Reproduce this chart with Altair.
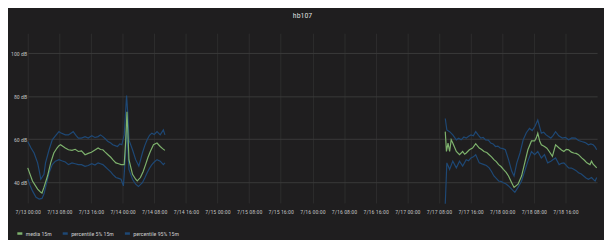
import datetime as dt
import altair as alt
import pandas as pd

# hours after 7/13 00:00 and level in dB
MEDIA_1 = [(0.0, 46.7), (1.2, 40.6), (2.5, 36.8), (3.3, 35.3), (3.6, 35.0), (4.1, 37.6), (5.0, 42.9),
           (5.8, 49.0), (6.6, 53.6), (7.4, 55.9), (7.9, 57.0), (8.3, 57.4), (9.5, 55.9), (10.3, 55.1),
           (11.2, 54.8), (12.0, 55.3), (12.8, 54.3), (13.6, 54.6), (14.5, 52.8), (15.3, 53.4), (16.1, 53.9),
           (17.0, 55.0), (17.8, 55.9), (18.4, 55.2), (19.0, 55.1), (19.6, 54.0), (20.3, 52.8), (21.0, 51.6),
           (21.5, 50.5), (22.3, 49.0), (23.0, 48.6), (23.6, 48.2), (24.4, 48.2), (24.8, 60.0), (25.1, 72.7),
           (25.4, 60.0), (25.6, 50.5), (26.5, 43.7), (27.3, 41.4), (27.7, 40.6), (28.5, 42.2), (29.2, 45.0),
           (29.8, 48.2), (30.4, 51.5), (31.0, 54.3), (31.8, 57.4), (32.7, 58.2), (33.5, 56.6), (34.1, 55.6),
           (34.7, 54.8)]
P95_1 = [(0.0, 58.9), (0.8, 56.0), (1.6, 53.6), (2.5, 49.0), (3.0, 44.5), (3.3, 41.4), (4.1, 43.7),
         (4.5, 49.0), (5.4, 55.1), (6.2, 59.7), (7.0, 61.5), (7.9, 63.5), (8.3, 63.0), (9.5, 62.0),
         (10.3, 62.0), (11.5, 63.5), (12.2, 61.8), (12.8, 60.5), (13.6, 60.5), (14.5, 61.2), (15.3, 60.5),
         (16.2, 61.6), (17.0, 60.8), (17.8, 61.2), (18.4, 62.0), (19.0, 61.2), (19.6, 60.2), (20.3, 58.9),
         (21.0, 58.2), (21.5, 57.4), (22.1, 57.0), (22.7, 56.6), (23.3, 57.8), (23.8, 57.4), (24.4, 62.0),
         (24.8, 74.0), (25.0, 80.3), (25.3, 72.0), (25.6, 59.7), (26.5, 55.1), (27.3, 50.5), (28.1, 47.5),
         (29.0, 53.6), (29.6, 57.0), (30.2, 59.7), (30.8, 61.8), (31.4, 62.8), (32.0, 62.2), (32.7, 63.5),
         (33.5, 62.0), (34.3, 64.3), (34.7, 62.0)]
P5_1 = [(0.0, 41.4), (0.6, 38.5), (1.2, 36.0), (2.1, 33.0), (2.9, 32.2), (3.6, 32.5), (4.1, 34.5),
        (4.7, 39.1), (5.4, 44.4), (6.2, 48.2), (7.0, 49.8), (7.9, 50.5), (8.6, 50.0), (9.5, 49.4),
        (10.3, 48.2), (11.2, 49.0), (12.0, 48.6), (12.8, 48.2), (13.6, 48.2), (14.5, 47.4), (15.3, 47.8),
        (16.2, 48.6), (17.0, 48.0), (17.8, 49.0), (18.4, 48.6), (19.0, 48.2), (19.6, 47.2), (20.3, 46.0),
        (21.0, 44.8), (21.5, 43.7), (22.3, 42.2), (23.0, 41.8), (23.6, 41.4), (24.2, 38.3), (24.7, 52.0),
        (25.0, 66.0), (25.3, 56.0), (25.6, 46.0), (26.5, 41.4), (27.3, 39.1), (28.0, 38.0), (29.0, 39.8),
        (29.6, 42.0), (30.2, 44.4), (30.8, 46.5), (31.4, 48.2), (32.0, 49.4), (32.7, 50.5), (33.5, 49.8),
        (34.3, 48.2), (34.7, 49.0)]

MEDIA_2 = [(105.6, 63.5), (105.9, 54.3), (106.3, 58.2), (106.7, 54.3), (107.1, 59.7), (107.5, 58.2),
           (108.4, 54.3), (109.2, 52.8), (110.0, 54.3), (110.5, 53.0), (110.9, 53.6), (111.7, 55.1),
           (112.5, 55.9), (113.3, 57.9), (114.2, 55.9), (114.8, 55.2), (115.4, 54.3), (116.1, 53.8),
           (116.7, 52.8), (117.3, 51.8), (117.9, 50.5), (118.5, 49.6), (119.1, 48.2), (119.7, 47.3),
           (120.3, 46.0), (121.0, 44.6), (121.6, 42.9), (122.4, 39.8), (123.0, 37.6), (124.0, 39.1),
           (124.9, 42.9), (125.7, 49.0), (126.5, 55.1), (127.4, 59.2), (128.2, 59.2), (128.6, 60.5),
           (129.0, 62.8), (129.5, 59.0), (129.9, 57.4), (130.7, 56.6), (131.3, 55.8), (131.9, 54.3),
           (132.7, 52.0), (133.5, 57.4), (134.4, 55.9), (135.0, 55.0), (135.6, 54.3), (136.2, 55.3),
           (136.8, 55.1), (137.5, 54.0), (138.1, 53.6), (138.7, 53.4), (139.3, 52.8), (140.1, 51.3),
           (140.8, 50.2), (141.4, 49.0), (142.2, 48.2), (142.6, 49.8), (143.0, 48.4), (143.5, 47.5),
           (143.9, 46.7)]
P95_2 = [(105.6, 69.6), (106.0, 64.3), (106.7, 63.5), (107.5, 62.0), (108.4, 59.7), (109.0, 60.4),
         (109.6, 59.7), (110.3, 61.0), (110.9, 60.5), (111.5, 61.4), (112.1, 62.0), (112.7, 61.6),
         (113.3, 63.5), (114.0, 61.8), (114.6, 60.5), (115.2, 60.8), (115.8, 59.7), (116.5, 59.6),
         (117.1, 58.2), (117.7, 57.8), (118.3, 56.6), (118.9, 56.8), (119.5, 55.9), (120.2, 55.6),
         (120.8, 55.1), (121.6, 50.5), (122.4, 45.2), (123.0, 42.9), (123.7, 49.0), (124.5, 53.6),
         (125.3, 59.7), (126.1, 63.0), (126.9, 65.0), (127.6, 64.0), (128.3, 66.0), (129.0, 68.9),
         (129.9, 62.8), (130.5, 63.2), (131.1, 62.0), (131.7, 61.2), (132.3, 60.5), (132.9, 61.8),
         (133.5, 63.5), (134.3, 61.6), (135.2, 60.5), (136.0, 60.8), (136.8, 59.7), (137.6, 60.6),
         (138.5, 60.5), (139.3, 59.4), (140.1, 58.9), (141.0, 58.4), (141.8, 57.4), (142.4, 57.8),
         (143.0, 57.4), (143.5, 56.4), (143.9, 55.1)]
P5_2 = [(105.6, 30.0), (106.0, 49.0), (106.7, 46.0), (107.5, 49.8), (108.4, 46.7), (109.2, 49.8),
        (110.0, 47.5), (110.9, 50.5), (111.5, 50.0), (112.1, 51.3), (112.7, 51.8), (113.3, 52.8),
        (114.2, 49.0), (115.4, 48.2), (116.0, 47.8), (116.7, 46.7), (117.3, 45.0), (117.9, 42.9),
        (118.5, 41.8), (119.1, 40.6), (119.7, 40.4), (120.3, 39.8), (121.0, 39.2), (121.6, 38.3),
        (122.4, 36.8), (123.2, 35.3), (124.0, 37.6), (124.9, 40.6), (125.7, 45.2), (126.5, 49.8),
        (127.4, 54.3), (128.2, 52.8), (129.0, 54.3), (129.9, 51.3), (130.7, 52.8), (131.5, 49.0),
        (132.3, 49.8), (132.9, 50.6), (133.5, 51.3), (134.4, 48.2), (135.0, 48.8), (135.6, 49.0),
        (136.2, 47.8), (136.8, 46.7), (137.5, 46.6), (138.1, 46.0), (138.7, 45.4), (139.3, 44.4),
        (140.0, 43.8), (140.6, 42.9), (141.2, 42.0), (141.8, 41.4), (142.6, 42.2), (143.1, 41.2),
        (143.5, 40.6), (143.9, 42.2)]

SERIES = ["media 15m", "percentile 5% 15m", "percentile 95% 15m"]
COLORS = ["#7eb26d", "#1e4875", "#1e4875"]
Y_TICKS = [40, 60, 80, 100]
X_TICK_HOURS = list(range(0, 137, 8))

BASE = dt.datetime(2018, 7, 13, tzinfo=dt.timezone.utc).timestamp() * 1000
HOUR = 3600 * 1000

rows = []
for name, seg, pts in [
    (SERIES[0], 1, MEDIA_1), (SERIES[0], 2, MEDIA_2),
    (SERIES[1], 1, P5_1), (SERIES[1], 2, P5_2),
    (SERIES[2], 1, P95_1), (SERIES[2], 2, P95_2),
]:
    for h, v in pts:
        rows.append({"series": name, "seg": f"{name}-{seg}", "t": BASE + h * HOUR, "v": v})
df = pd.DataFrame(rows)

FONT = "Liberation Sans Narrow, Roboto Condensed, DejaVu Sans Condensed, Liberation Sans"

x = alt.X("t:Q",
          scale=alt.Scale(domain=[BASE, BASE + 144 * HOUR], nice=False, zero=False),
          axis=alt.Axis(values=[BASE + h * HOUR for h in X_TICK_HOURS],
                        labelExpr="utcFormat(datum.value, '%-m/%-d %H:%M')",
                        title=None, grid=True, gridColor="#2e2e2e", ticks=False, domain=False,
                        labelOverlap=False, labelFlush=False, labelPadding=6, labelFontSize=6))
y = alt.Y("v:Q",
          scale=alt.Scale(domain=[30.4, 109.2], nice=False, zero=False),
          axis=alt.Axis(values=Y_TICKS, labelExpr="datum.value + ' dB'", title=None,
                        gridColor="#3a3a3a", ticks=False, domain=False, labelPadding=1,
                        labelFontSize=6))
color = alt.Color("series:N",
                  scale=alt.Scale(domain=SERIES, range=COLORS),
                  legend=alt.Legend(title=None, orient="none", legendX=-12, legendY=199,
                                    direction="horizontal", symbolType="stroke",
                                    symbolStrokeWidth=2.5, symbolSize=26, columnPadding=5,
                                    labelFontSize=6, labelColor="#c8c8c8", labelFont=FONT,
                                    symbolOpacity=1, labelOffset=2))

blue = alt.Chart(df).transform_filter(alt.datum.series != SERIES[0]).mark_line(
    strokeWidth=1.2).encode(x=x, y=y, color=color, detail="seg:N")
green = alt.Chart(df).transform_filter(alt.datum.series == SERIES[0]).mark_line(
    strokeWidth=1.2).encode(x=x, y=y, color=color, detail="seg:N")

chart = alt.layer(blue, green).properties(
    width=577, height=172,
    autosize=alt.AutoSizeParams(type="none"),
    padding={"left": 20, "top": 24, "right": 7, "bottom": 36},
    background="#1f1e1f",
    title=alt.TitleParams("hb107", anchor="middle", fontSize=8, color="#d8d9da", font=FONT,
                          fontWeight="normal", offset=5, dx=-10, baseline="bottom"),
).configure_view(stroke=None).configure_axis(
    labelFont=FONT, labelColor="#bdbdbd", gridWidth=1
)

chart.save("out.html", embed_options={"renderer": "svg", "actions": False})
